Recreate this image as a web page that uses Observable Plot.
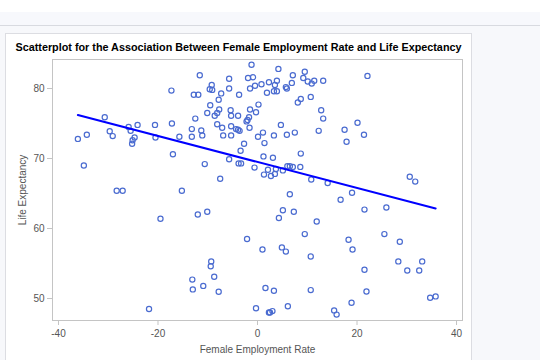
<!DOCTYPE html>
<html>
<head>
<meta charset="utf-8">
<script src="https://cdn.jsdelivr.net/npm/d3@7"></script>
<script src="https://cdn.jsdelivr.net/npm/@observablehq/plot@0.6"></script>
<style>
  html, body { margin: 0; padding: 0; width: 540px; height: 360px; overflow: hidden; background: #f7f8fb; font-family: "Liberation Sans", Arial, sans-serif; }
  #topwhite { position: absolute; left: 0; top: 0; width: 540px; height: 12px; background: #ffffff; }
  #band { position: absolute; left: 0; top: 12px; width: 540px; height: 13px; background: #f7f8fc; border-bottom: 1px solid #d8dae0; }
  #panel { position: absolute; left: 5px; top: 33px; width: 465px; height: 340px; background: #ffffff; border: 1px solid #dcdde2; }
  #title { position: absolute; left: 5px; top: 41px; width: 467px; text-align: center; font-weight: bold; font-size: 10.8px; color: #000; white-space: nowrap; }
  #chart { position: absolute; left: 0; top: 55px; }
</style>
</head>
<body>
<div id="topwhite"></div>
<div id="band"></div>
<div id="panel"></div>
<div id="title">Scatterplot for the Association Between Female Employment Rate and Life Expectancy</div>
<div id="chart"></div>
<script>
const femaleEmploymentRate = [
  -17.3,-30.7,-17.2,-20.6,-24.1,-25.9,-29.7,-25.5,-29.1,-34.3,-36.1,-24.7,-25.1,-25.2,-20.5,-15.7,-17.0,-34.9,
  -28.3,-27.1,-15.2,-19.5,-21.8,
  -1.2,4.2,-11.6,9.5,7.1,-5.7,-1.9,-0.9,9.2,10.1,10.9,11.4,13.2,3.9,2.3,0.8,-0.5,-9.2,-9.6,-9.1,-5.7,-1.5,3.5,5.7,5.9,6.9,
  -12.8,-11.9,-7.3,-3.7,1.9,3.3,3.9,8.7,8.1,10.7,-7.8,-9.5,0.2,12.8,13.2,-12.5,-10.1,-8.6,-8.1,-7.7,-5.4,-5.3,-3.9,-1.5,-0.3,-1.7,-2.0,
  -2.2,-8.1,-7.1,-5.3,-4.3,-3.9,-3.6,-1.6,-13.2,-13.2,-11.3,-11.1,-6.9,-5.3,0.1,1.1,3.3,4.7,5.9,7.5,12.3,-2.7,1.4,-3.4,8.7,1.2,
  3.1,-5.7,-10.6,-3.8,-3.3,-0.6,2.1,3.7,6.0,6.5,7.1,8.6,5.1,1.3,2.7,3.5,-7.5,10.8,
  22.1,17.5,20.1,17.9,21.4,30.6,31.7,14.1,
  6.5,-12.0,-10.1,5.1,7.3,4.3,11.9,-2.1,9.5,1.0,4.9,5.7,10.7,-9.3,-9.4,-8.7,-13.1,-10.9,-13.0,-7.8,1.6,3.3,10.7,-0.3,2.3,2.5,3.0,6.1,
  19.0,16.7,21.5,25.9,18.3,19.1,25.5,28.6,21.5,28.3,33.1,30.1,32.5,21.9,18.9,15.4,15.9,34.7,35.8
];
const lifeExpectancy = [
  79.7,75.9,75.0,74.8,74.8,74.5,73.9,73.95,73.2,73.4,72.8,73.0,72.6,72.1,73.0,73.1,70.6,69.0,
  65.4,65.4,65.4,61.4,48.5,
  83.4,82.8,81.9,82.4,81.9,81.4,81.5,81.6,81.5,81.0,80.7,81.1,81.1,81.1,80.9,80.6,80.4,80.5,79.9,79.8,80.0,80.0,80.5,80.2,80.0,80.8,
  79.1,79.1,79.3,79.1,79.4,79.6,79.6,78.5,78.0,78.8,78.4,77.6,77.7,76.9,75.7,75.7,76.5,76.1,76.5,77.0,76.9,76.1,76.1,77.0,76.6,75.9,75.5,
  75.3,74.9,74.4,74.6,74.2,74.1,73.95,74.4,74.2,73.1,74.0,73.3,73.3,73.3,73.1,73.7,73.3,74.8,73.4,73.7,73.95,72.1,72.2,71.1,70.7,70.3,
  70.1,69.9,69.2,69.3,69.3,68.7,68.4,68.5,68.9,68.9,68.8,68.8,68.3,67.7,67.5,67.8,67.1,67.0,
  81.8,74.1,75.1,72.4,73.4,67.4,66.7,66.5,
  64.9,62.0,62.4,62.6,62.4,61.5,61.0,58.5,59.2,57.0,57.3,56.7,56.0,55.3,54.6,53.1,52.7,51.8,51.3,50.96,51.5,51.1,51.2,48.6,48.0,48.0,48.2,48.9,
  65.1,64.1,62.7,63.0,58.4,57.0,59.2,58.1,54.1,55.3,55.3,54.0,54.0,51.0,49.4,48.3,47.7,50.1,50.3
];
const xTicks = [-40, -20, 0, 20, 40];
const yTicks = [50, 60, 70, 80];

const data = femaleEmploymentRate.map((x, i) => ({x, y: lifeExpectancy[i]}));

const gray = "#c4c4c4";
const textColor = "#555";

const chart = Plot.plot({
  width: 480,
  height: 305,
  marginLeft: 52,
  marginRight: 18,
  marginTop: 4,
  marginBottom: 40,
  style: {fontFamily: "Liberation Sans, Arial, sans-serif", fontSize: "10px", background: "transparent", color: textColor},
  x: {domain: [-41.2, 41.2]},
  y: {domain: [46.86, 84.14]},
  marks: [
    Plot.frame({stroke: gray, strokeWidth: 1}),
    Plot.axisX({ticks: xTicks, tickFormat: d => String(d), tickSize: 5, tickPadding: 4, stroke: gray,
      label: "Female Employment Rate", labelAnchor: "center", labelArrow: "none", labelOffset: 32, fill: textColor}),
    Plot.axisY({ticks: yTicks, tickFormat: d => String(d), tickSize: 5, tickPadding: 3, stroke: gray,
      label: "Life Expectancy", labelAnchor: "center", labelArrow: "none", labelOffset: 34, fill: textColor}),
    Plot.dot(data, {x: "x", y: "y", r: 2.6, stroke: "#4a6bd0", strokeWidth: 1.2, fill: "none"}),
    Plot.linearRegressionY(data, {x: "x", y: "y", stroke: "#0000ff", strokeWidth: 2, ci: 0})
  ]
});
document.getElementById("chart").appendChild(chart);
</script>
</body>
</html>
